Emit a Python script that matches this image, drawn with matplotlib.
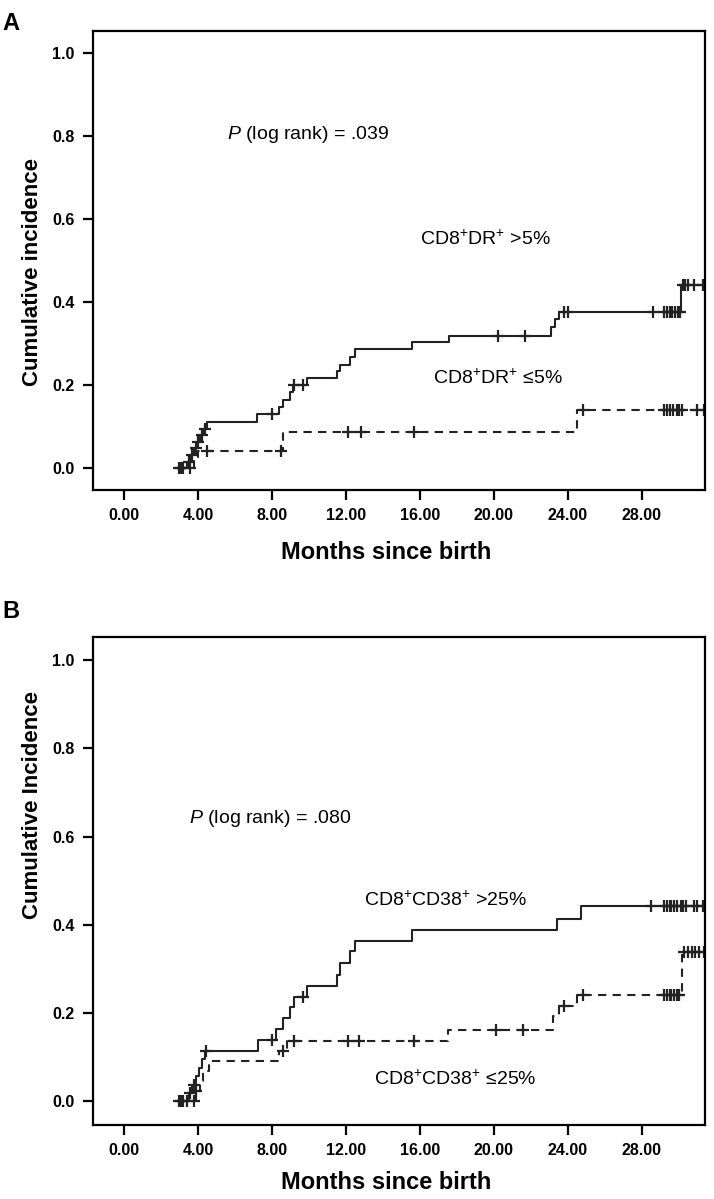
import numpy as np
import matplotlib.pyplot as plt

plt.rcParams['font.family'] = ['Liberation Sans', 'DejaVu Sans']
plt.rcParams['mathtext.fontset'] = 'custom'
plt.rcParams['mathtext.rm'] = 'Liberation Sans'
plt.rcParams['mathtext.it'] = 'Liberation Sans:italic'

# ---- Panel A: CD8+DR+ ----
a_hi_t = [2.9, 3.4, 3.6, 3.8, 3.95, 4.1, 4.3, 4.5, 7.2, 8.4, 8.6, 9.0, 9.15, 9.9,
          11.5, 11.7, 12.2, 12.5, 15.55, 17.6, 23.1, 23.3, 23.5, 30.1]
a_hi_v = [0.0, 0.016, 0.032, 0.048, 0.064, 0.08, 0.096, 0.112, 0.13, 0.148, 0.164, 0.184, 0.2, 0.218,
          0.234, 0.25, 0.268, 0.287, 0.304, 0.32, 0.34, 0.36, 0.377, 0.441]
a_hi_cens = [3.0, 3.2, 3.5, 3.7, 3.9, 4.0, 4.2, 4.4, 8.0, 9.2, 9.7, 20.2, 21.7, 23.8, 24.0,
             28.6, 29.2, 29.35, 29.5, 29.65, 29.8, 29.95, 30.05, 30.2, 30.35, 30.5, 30.8, 31.3]

a_lo_t = [3.0, 3.8, 4.0, 8.6, 24.5]
a_lo_v = [0.0, 0.021, 0.043, 0.087, 0.14]
a_lo_cens = [3.1, 3.6, 4.5, 8.5, 12.1, 12.8, 15.7, 24.8, 29.2, 29.35, 29.5, 29.7, 29.9,
             30.0, 30.15, 31.0, 31.35]

# ---- Panel B: CD8+CD38+ ----
b_hi_t = [2.9, 3.5, 3.7, 3.9, 4.05, 4.2, 4.4, 7.25, 8.2, 8.6, 9.0, 9.2, 9.9,
          11.5, 11.7, 12.2, 12.5, 15.55, 23.4, 24.7]
b_hi_v = [0.0, 0.019, 0.038, 0.057, 0.076, 0.095, 0.114, 0.139, 0.163, 0.188, 0.213, 0.236, 0.262,
          0.287, 0.314, 0.34, 0.363, 0.389, 0.412, 0.442]
b_hi_cens = [3.0, 3.2, 3.6, 3.8, 4.45, 8.0, 9.7, 28.5, 29.2, 29.35, 29.5, 29.6, 29.75,
             29.9, 30.1, 30.25, 30.4, 30.8, 31.0, 31.3]

b_lo_t = [3.0, 3.9, 4.1, 4.3, 4.6, 8.4, 8.8, 17.5, 23.2, 23.5, 24.5, 30.15]
b_lo_v = [0.0, 0.023, 0.045, 0.068, 0.091, 0.114, 0.136, 0.161, 0.193, 0.216, 0.242, 0.338]
b_lo_cens = [3.1, 3.4, 3.8, 3.9, 8.6, 9.2, 12.1, 12.7, 15.7, 20.1, 21.6, 23.8, 24.8,
             29.2, 29.35, 29.5, 29.6, 29.75, 29.9, 30.0, 30.3, 30.5, 30.7, 30.9, 31.1, 31.35]

xticks = [0, 4, 8, 12, 16, 20, 24, 28]
yticks = [0.0, 0.2, 0.4, 0.6, 0.8, 1.0]


def km_plot(ax, t, v, cens, ls):
    ax.step(t + [31.4], v + [v[-1]], where='post', color='#222222', lw=1.5, ls=ls,
            dashes=(4, 3) if ls == '--' else (None, None))
    cy = [v[np.searchsorted(t, c, side='right') - 1] for c in cens]
    ax.plot(cens, cy, ls='none', marker='+', ms=8, mew=1.6, color='#222222')


def setup(ax, ylab, xlab_y, ylab_y):
    ax.set_xlim(-1.68, 31.4)
    ax.set_ylim(-0.053, 1.053)
    ax.set_xticks(xticks)
    ax.set_xticklabels(['%.2f' % x for x in xticks], fontweight='bold', fontsize=11.5)
    ax.set_yticks(yticks)
    ax.set_yticklabels(['%.1f' % y for y in yticks], fontweight='bold', fontsize=11.5)
    ax.tick_params(direction='out', length=7, width=1.6, pad=6)
    for s in ax.spines.values():
        s.set_linewidth(1.6)
    ax.set_xlabel('Months since birth', fontweight='bold', fontsize=17)
    ax.xaxis.set_label_coords(0.48, xlab_y)
    ax.set_ylabel(ylab, fontweight='bold', fontsize=16)
    ax.yaxis.set_label_coords(-0.082, ylab_y)


fig = plt.figure(figsize=(7.14, 11.99), dpi=100)
axA = fig.add_axes([0.130, 0.591, 0.857, 0.383])
axB = fig.add_axes([0.130, 0.062, 0.857, 0.407])

km_plot(axA, a_hi_t, a_hi_v, a_hi_cens, '-')
km_plot(axA, a_lo_t, a_lo_v, a_lo_cens, '--')
setup(axA, 'Cumulative incidence', -0.11, 0.475)
axA.text(5.6, 0.805, r'$\it{P}$ (log rank) = .039', fontsize=14, va='center')
axA.text(16.0, 0.553, 'CD8$^{+}$DR$^{+}$ >5%', fontsize=14, va='center')
axA.text(16.7, 0.218, 'CD8$^{+}$DR$^{+}$ ≤5%', fontsize=14, va='center')

km_plot(axB, b_hi_t, b_hi_v, b_hi_cens, '-')
km_plot(axB, b_lo_t, b_lo_v, b_lo_cens, '--')
setup(axB, 'Cumulative Incidence', -0.094, 0.655)
axB.text(3.5, 0.64, r'$\it{P}$ (log rank) = .080', fontsize=14, va='center')
axB.text(13.0, 0.457, 'CD8$^{+}$CD38$^{+}$ >25%', fontsize=14, va='center')
axB.text(13.5, 0.05, 'CD8$^{+}$CD38$^{+}$ ≤25%', fontsize=14, va='center')

fig.text(0.003, 0.99, 'A', fontsize=17, fontweight='bold', va='top')
fig.text(0.003, 0.500, 'B', fontsize=17, fontweight='bold', va='top')

fig.savefig('out.png', dpi=100)
